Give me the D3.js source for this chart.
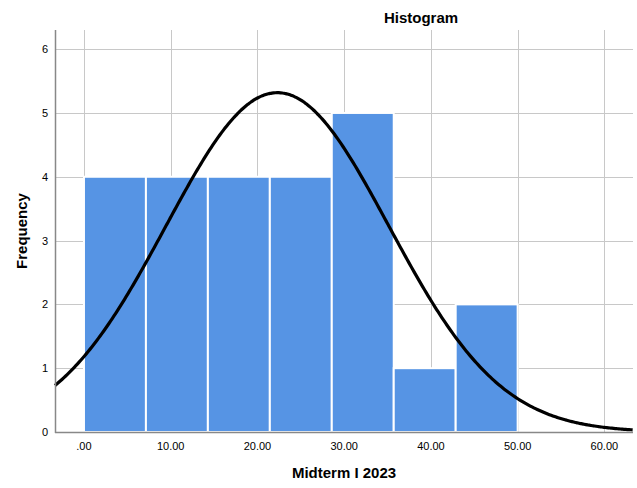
<!DOCTYPE html>
<html><head><meta charset="utf-8">
<script src="https://cdn.jsdelivr.net/npm/d3@7"></script>
<style>body{margin:0;background:#fff}svg{display:block}</style>
</head><body>
<svg id="c" width="637" height="488"></svg>
<script>
const binEdges = [0, 7.143, 14.286, 21.429, 28.571, 35.714, 42.857, 50];
const counts = [4, 4, 4, 4, 5, 1, 2];
const xTicks = [0, 10, 20, 30, 40, 50, 60];
const xTickLabels = [".00", "10.00", "20.00", "30.00", "40.00", "50.00", "60.00"];
const yTicks = [0, 1, 2, 3, 4, 5, 6];
const normalMean = 22.3;
const normalSd = 12.86;
const nTotal = 24;

const svg = d3.select("#c");
const L = 55, R = 633, T = 30, B = 432;
const x = d3.scaleLinear().domain([-3.34, 63.3]).range([L, R]);
const y = d3.scaleLinear().domain([0, 6.3]).range([B, T]);
const font = "Liberation Sans, Arial, sans-serif";

// gridlines
svg.append("g").selectAll("line").data(xTicks).join("line")
  .attr("x1", d => Math.round(x(d)) + 0.5).attr("x2", d => Math.round(x(d)) + 0.5)
  .attr("y1", T).attr("y2", B).attr("stroke", "#c8c8c8").attr("stroke-width", 1);
svg.append("g").selectAll("line").data(yTicks.filter(d => d > 0)).join("line")
  .attr("x1", L).attr("x2", R)
  .attr("y1", d => Math.round(y(d)) + 0.5).attr("y2", d => Math.round(y(d)) + 0.5)
  .attr("stroke", "#c8c8c8").attr("stroke-width", 1);

// bars
const bins = counts.map((c, i) => ({x0: binEdges[i], x1: binEdges[i + 1], c}));
svg.append("g").selectAll("rect").data(bins).join("rect")
  .attr("x", d => x(d.x0)).attr("width", d => x(d.x1) - x(d.x0))
  .attr("y", d => y(d.c)).attr("height", d => y(0) - y(d.c))
  .attr("fill", "#5694e4").attr("stroke", "#ffffff").attr("stroke-width", 2);

// normal curve
const bw = binEdges[1] - binEdges[0];
const pts = d3.range(-3.34, 63.31, 0.2).map(v => [v,
  nTotal * bw / (normalSd * Math.sqrt(2 * Math.PI)) * Math.exp(-0.5 * ((v - normalMean) / normalSd) ** 2)]);
svg.append("path").datum(pts)
  .attr("d", d3.line().x(d => x(d[0])).y(d => y(d[1])).curve(d3.curveBasis))
  .attr("fill", "none").attr("stroke", "#000").attr("stroke-width", 3.2);

// axes lines
svg.append("line").attr("x1", L + 0.5).attr("x2", L + 0.5).attr("y1", T).attr("y2", B + 1)
  .attr("stroke", "#888").attr("stroke-width", 1.5);
svg.append("line").attr("x1", L).attr("x2", R).attr("y1", B + 0.5).attr("y2", B + 0.5)
  .attr("stroke", "#888").attr("stroke-width", 1.5);

// y tick labels
svg.append("g").selectAll("text").data(yTicks).join("text")
  .attr("x", 48).attr("y", d => y(d) + 4).attr("text-anchor", "end")
  .attr("font-family", font).attr("font-size", 11).attr("fill", "#000").text(d => d);

// x tick labels
svg.append("g").selectAll("text").data(xTicks).join("text")
  .attr("x", d => x(d)).attr("y", 450).attr("text-anchor", "middle")
  .attr("font-family", font).attr("font-size", 11).attr("fill", "#000")
  .text((d, i) => xTickLabels[i]);

// titles
svg.append("text").attr("x", 421).attr("y", 23).attr("text-anchor", "middle")
  .attr("font-family", font).attr("font-size", 15).attr("font-weight", "bold").text("Histogram");
svg.append("text").attr("x", 344).attr("y", 478).attr("text-anchor", "middle")
  .attr("font-family", font).attr("font-size", 15).attr("font-weight", "bold").text("Midterm I 2023");
svg.append("text").attr("transform", "translate(27,231) rotate(-90)").attr("text-anchor", "middle")
  .attr("font-family", font).attr("font-size", 15).attr("font-weight", "bold").text("Frequency");
</script>
</body></html>
